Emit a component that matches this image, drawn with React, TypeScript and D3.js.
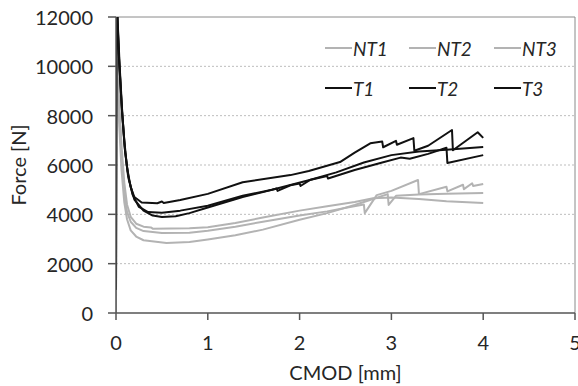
import * as d3 from "d3";

// series: [CMOD mm, Force N]
const nt1 = [
    [0, 0], [0.004, 12600], [0.03, 9000], [0.06, 6800], [0.09, 5300], [0.12, 4400],
    [0.16, 3900], [0.22, 3620], [0.3, 3500], [0.38, 3470], [0.4, 3420], [0.6, 3430],
    [0.8, 3440], [1.0, 3480], [1.3, 3650], [1.6, 3870], [2.0, 4150], [2.3, 4330],
    [2.6, 4500], [2.8, 4650], [3.0, 4680], [3.3, 4620], [3.6, 4530], [4.0, 4460],
];
const nt2 = [
    [0, 0], [0.004, 12600], [0.03, 8500], [0.06, 6300], [0.09, 4900], [0.12, 4100],
    [0.16, 3700], [0.22, 3450], [0.3, 3320], [0.5, 3240], [0.8, 3250], [1.0, 3330],
    [1.3, 3500], [1.6, 3700], [2.0, 3950], [2.3, 4120], [2.55, 4300], [2.7, 4400],
    [2.71, 4050], [2.84, 4780], [3.0, 4950], [3.29, 5390], [3.3, 4820], [3.6, 5120],
    [3.61, 4930], [3.78, 5200], [3.79, 5020], [3.88, 5260], [3.89, 5150], [4.0, 5230],
];
const nt3 = [
    [0, 0], [0.004, 12600], [0.03, 8000], [0.06, 5800], [0.09, 4500], [0.12, 3800],
    [0.16, 3350], [0.22, 3100], [0.3, 2950], [0.55, 2840], [0.8, 2880], [1.0, 2980],
    [1.3, 3150], [1.6, 3380], [2.0, 3780], [2.3, 4050], [2.6, 4380], [2.8, 4620],
    [2.96, 4820], [2.97, 4380], [3.05, 4750], [3.3, 4800], [3.6, 4830], [4.0, 4860],
];
const t1 = [
    [0, 950], [0.004, 13000], [0.03, 10500], [0.06, 8500], [0.09, 7000], [0.12, 5900],
    [0.16, 5100], [0.2, 4700], [0.28, 4480], [0.45, 4450], [0.5, 4520], [0.52, 4460],
    [0.7, 4580], [1.0, 4830], [1.38, 5300], [1.9, 5590], [2.1, 5760], [2.44, 6120],
    [2.6, 6500], [2.77, 6880], [2.9, 6950], [2.91, 6720], [3.05, 6980], [3.06, 6820],
    [3.24, 7090], [3.25, 6580], [3.4, 6780], [3.66, 7420], [3.67, 6600], [3.94, 7330],
    [4.0, 7100],
];
const t2 = [
    [0, 950], [0.004, 13000], [0.04, 10000], [0.07, 8000], [0.1, 6500], [0.14, 5400],
    [0.2, 4600], [0.3, 4150], [0.4, 3950], [0.5, 3890], [0.65, 3920], [0.8, 4050],
    [1.0, 4280], [1.38, 4700], [1.6, 4900], [1.75, 5050], [1.76, 4950], [1.9, 5180],
    [2.0, 5250], [2.01, 5150], [2.11, 5390], [2.4, 5700], [2.7, 6100], [3.0, 6400],
    [3.3, 6550], [3.6, 6620], [4.0, 6730],
];
const t3 = [
    [0, 950], [0.004, 13000], [0.035, 10200], [0.065, 8200], [0.095, 6700], [0.13, 5600],
    [0.18, 4800], [0.25, 4300], [0.35, 4090], [0.5, 4060], [0.7, 4150], [1.0, 4350],
    [1.38, 4750], [1.7, 5000], [2.11, 5390], [2.3, 5550], [2.31, 5450], [2.6, 5800],
    [2.9, 6100], [3.1, 6300], [3.2, 6250], [3.4, 6450], [3.6, 6700], [3.61, 6080],
    [4.0, 6400],
];

const seriesNames = ["NT1", "NT2", "NT3", "T1", "T2", "T3"];
const seriesData = [nt1, nt2, nt3, t1, t2, t3];
const xTicks = [0, 1, 2, 3, 4, 5];
const yTicks = [0, 2000, 4000, 6000, 8000, 10000, 12000];

const GRAY = "#b3b3b3";
const BLACK = "#111111";
const FONT = "Lato, 'Open Sans', sans-serif";

const App = () => {
    const width = 578;
    const height = 386;
    const plot = { left: 116, right: 575, top: 17, bottom: 313 };

    const xScale = d3.scaleLinear().domain([0, 5]).range([plot.left, plot.right]);
    const yScale = d3.scaleLinear().domain([0, 12000]).range([plot.bottom, plot.top]);

    const line = d3
        .line()
        .x((d) => xScale(d[0]))
        .y((d) => yScale(d[1]));

    const colorOf = (name) => (name.startsWith("NT") ? GRAY : BLACK);

    // legend slots: 3 columns, 2 rows
    const legendCols = [325, 409, 494];
    const legendRows = [48, 88];

    return (
        <svg
            width={width}
            height={height}
            style={{ position: "absolute", left: 0, top: 0, background: "#fff" }}
        >
            <defs>
                <clipPath id="plotClip">
                    <rect
                        x={plot.left}
                        y={plot.top}
                        width={plot.right - plot.left}
                        height={plot.bottom - plot.top}
                    />
                </clipPath>
            </defs>

            {/* gridlines */}
            {yTicks
                .filter((t) => t > 0 && t < 12000)
                .map((t) => (
                    <line
                        key={`grid-${t}`}
                        x1={plot.left}
                        x2={plot.right}
                        y1={yScale(t)}
                        y2={yScale(t)}
                        stroke="#bdbdbd"
                        strokeWidth={1}
                        strokeDasharray="2,2"
                    />
                ))}

            {/* frame */}
            <line x1={plot.left} x2={plot.right} y1={plot.top} y2={plot.top} stroke="#8a8a8a" strokeWidth={1} />
            <line x1={plot.right} x2={plot.right} y1={plot.top} y2={plot.bottom} stroke="#8a8a8a" strokeWidth={1} />

            {/* curves */}
            <g clipPath="url(#plotClip)">
                {seriesData.map((s, i) => (
                    <path
                        key={`line-${seriesNames[i]}`}
                        d={line(s)}
                        fill="none"
                        stroke={colorOf(seriesNames[i])}
                        strokeWidth={2}
                        strokeLinejoin="round"
                    />
                ))}
            </g>

            {/* axes */}
            <line x1={plot.left} x2={plot.left} y1={plot.top} y2={plot.bottom} stroke="#555" strokeWidth={1.5} />
            <line x1={plot.left} x2={plot.right} y1={plot.bottom} y2={plot.bottom} stroke="#555" strokeWidth={1.5} />

            {yTicks.map((t) => (
                <g key={`yt-${t}`}>
                    <line
                        x1={plot.left - 8}
                        x2={plot.left}
                        y1={yScale(t)}
                        y2={yScale(t)}
                        stroke="#555"
                        strokeWidth={1.5}
                    />
                    <text
                        x={93}
                        y={yScale(t)}
                        textAnchor="end"
                        dominantBaseline="central"
                        fontFamily={FONT}
                        fontSize={20}
                        fill="#262626"
                    >
                        {t}
                    </text>
                </g>
            ))}

            {xTicks.map((t) => (
                <g key={`xt-${t}`}>
                    <line
                        x1={xScale(t)}
                        x2={xScale(t)}
                        y1={plot.bottom}
                        y2={plot.bottom + 7}
                        stroke="#555"
                        strokeWidth={1.5}
                    />
                    <text
                        x={xScale(t)}
                        y={350}
                        textAnchor="middle"
                        fontFamily={FONT}
                        fontSize={20}
                        fill="#262626"
                    >
                        {t}
                    </text>
                </g>
            ))}

            {/* axis titles */}
            <text
                x={(plot.left + plot.right) / 2}
                y={380}
                textAnchor="middle"
                fontFamily={FONT}
                fontSize={20}
                fill="#262626"
            >
                CMOD [mm]
            </text>
            <text
                transform={`translate(18, ${(plot.top + plot.bottom) / 2}) rotate(-90)`}
                textAnchor="middle"
                dominantBaseline="central"
                fontFamily={FONT}
                fontSize={20}
                fill="#262626"
            >
                Force [N]
            </text>

            {/* legend */}
            {seriesNames.map((name, i) => {
                const lx = legendCols[i % 3];
                const ly = legendRows[Math.floor(i / 3)];
                return (
                    <g key={`leg-${name}`}>
                        <line
                            x1={lx}
                            x2={lx + 27}
                            y1={ly}
                            y2={ly}
                            stroke={colorOf(name)}
                            strokeWidth={2}
                        />
                        <text
                            x={lx + 28}
                            y={ly}
                            dominantBaseline="central"
                            fontFamily={FONT}
                            fontSize={19}
                            fontStyle="italic"
                            fill="#262626"
                        >
                            {name}
                        </text>
                    </g>
                );
            })}
        </svg>
    );
};

export default App;
